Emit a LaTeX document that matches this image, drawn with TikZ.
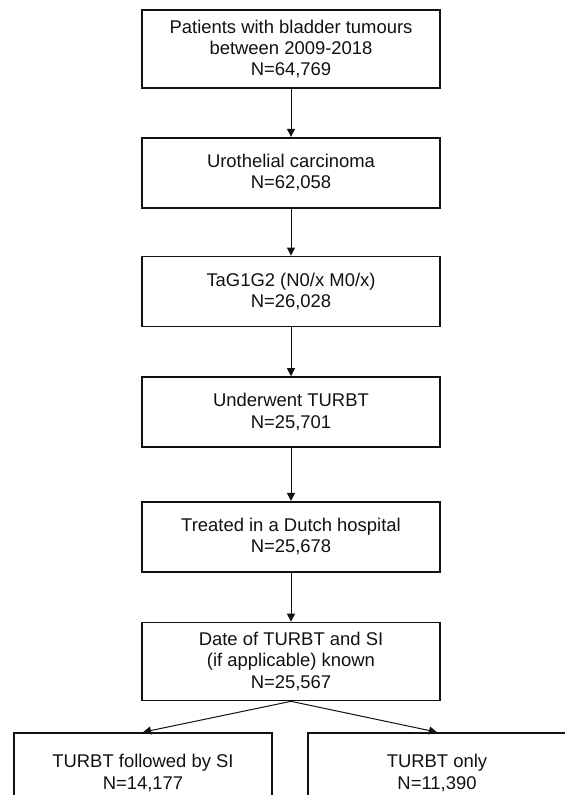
\documentclass[tikz,border=0pt]{standalone}
\usepackage{fontspec}
\setmainfont{Liberation Sans}
\usetikzlibrary{positioning,arrows.meta}
\definecolor{ink}{HTML}{111111}
\tikzset{
  box/.style={draw=ink, line width=1.7pt, text=ink, align=center, inner sep=0pt,
    minimum width=298bp, minimum height=70bp, font=\fontsize{18.5}{21.5}\selectfont},
  tall/.style={box, minimum height=78bp},
  leaf/.style={box, minimum width=258bp, minimum height=80bp},
  flow/.style={draw=ink, line width=1pt, -{Triangle[length=8bp,width=8bp]}},
}

\begin{document}
\begin{tikzpicture}
  \clip (0,0) rectangle (565bp,-795bp);
  \node[tall] (patients) at (291bp,-49bp) {Patients with bladder tumours\\between 2009-2018\\N=64,769};
  \node[box,below=48bp of patients] (uc) {Urothelial carcinoma\\N=62,058};
  \node[box,below=47bp of uc] (tag) {TaG1G2 (N0/x M0/x)\\N=26,028};
  \node[box,below=49bp of tag] (turbt) {Underwent TURBT\\N=25,701};
  \node[box,below=53bp of turbt] (dutch) {Treated in a Dutch hospital\\N=25,678};
  \node[tall,below=49bp of dutch] (dates) {Date of TURBT and SI\\(if applicable) known\\N=25,567};
  \node[leaf] (withsi) at (143bp,-773bp) {TURBT followed by SI\\N=14,177};
  \node[leaf] (only) at (437bp,-773bp) {TURBT only\\N=11,390};
  % arrows
  \draw[flow] (patients) -- (uc);
  \draw[flow] (uc) -- (tag);
  \draw[flow] (tag) -- (turbt);
  \draw[flow] (turbt) -- (dutch);
  \draw[flow] (dutch) -- (dates);
  \draw[flow] (dates.south) -- (withsi.north);
  \draw[flow] (dates.south) -- (only.north);
\end{tikzpicture}
\end{document}
